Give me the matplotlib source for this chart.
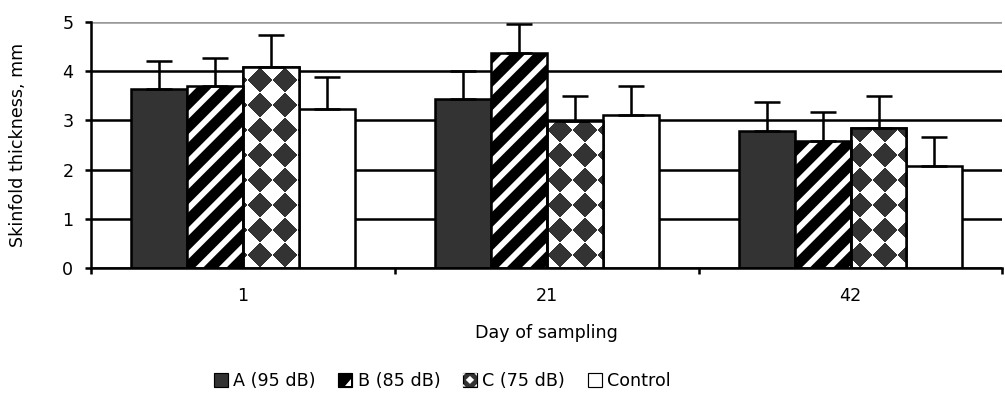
import numpy as np
import matplotlib
matplotlib.use('Agg')
import matplotlib.pyplot as plt
from matplotlib.patches import Patch, Rectangle, Polygon
from matplotlib.legend_handler import HandlerBase

# ---- data ----
days = ['1', '21', '42']
series = ['A (95 dB)', 'B (85 dB)', 'C (75 dB)', 'Control']
vals_A = [3.63, 3.43, 2.78]
vals_B = [3.69, 4.37, 2.59]
vals_C = [4.09, 2.99, 2.85]
vals_ctrl = [3.24, 3.10, 2.07]
err_A = [0.58, 0.57, 0.59]
err_B = [0.58, 0.58, 0.59]
err_C = [0.65, 0.51, 0.65]
err_ctrl = [0.65, 0.59, 0.59]
yticks = [0, 1, 2, 3, 4, 5]

DPI = 140
plt.rcParams['hatch.linewidth'] = 3.0
plt.rcParams['font.family'] = ['DejaVu Sans']
FS = 9

fig = plt.figure(figsize=(1005 / DPI, 404 / DPI), dpi=DPI)
ax_l, ax_b, ax_w, ax_h = 0.0905, 0.3366, 0.907, 0.6089
ax = fig.add_axes([ax_l, ax_b, ax_w, ax_h])

x = np.arange(len(days))
w = 0.184
offs = [(i - 1.5) * w for i in range(4)]
dark = '#333333'
lw = 1.3

# A
barsA = ax.bar(x + offs[0], vals_A, w, color=dark, edgecolor='black', linewidth=lw, zorder=2)
# B : black with white diagonal stripes
barsB = ax.bar(x + offs[1], vals_B, w, color='black', edgecolor='white', hatch='//', linewidth=0, zorder=2)
ax.bar(x + offs[1], vals_B, w, fill=False, edgecolor='black', linewidth=lw, zorder=2.4)
# C : diamond checker
barsC = ax.bar(x + offs[2], vals_C, w, color=dark, edgecolor='black', linewidth=lw, zorder=2)
# Control
barsD = ax.bar(x + offs[3], vals_ctrl, w, color='white', edgecolor='black', linewidth=lw, zorder=2)

ax.set_xlim(-0.5, len(days) - 0.5)
ax.set_ylim(0, 5)

# checker pattern in display pixels
Wpx = int(round(1005 * ax_w)) * 2
Hpx = int(round(404 * ax_h)) * 2
u = (np.arange(Wpx) + 0.5) / 2.0
v = (np.arange(Hpx) + 0.5) / 2.0
U, V = np.meshgrid(u, v)
p = 25.0
par = (np.floor((U + V + 6) / p) + np.floor((U - V + 6) / p)) % 2
img = np.ones((Hpx, Wpx, 3))
img[par == 1] = np.array([0x33, 0x33, 0x33]) / 255.0
for b in barsC:
    im = ax.imshow(img, extent=(-0.5, len(days) - 0.5, 0, 5), origin='lower',
                   aspect='auto', interpolation='nearest', zorder=2.2)
    im.set_clip_path(b)
ax.bar(x + offs[2], vals_C, w, fill=False, edgecolor='black', linewidth=lw, zorder=2.4)
ax.set_xlim(-0.5, len(days) - 0.5)
ax.set_ylim(0, 5)

# error bars (upper only)
for vals, errs, o in [(vals_A, err_A, offs[0]), (vals_B, err_B, offs[1]),
                      (vals_C, err_C, offs[2]), (vals_ctrl, err_ctrl, offs[3])]:
    ax.errorbar(x + o, vals, yerr=[np.zeros(len(errs)), errs], fmt='none',
                ecolor='black', elinewidth=1.3, capsize=6.8, capthick=1.3, zorder=2.6)

# axes styling
ax.set_axisbelow(True)
ax.set_yticks(yticks)
ax.yaxis.grid(True, color='black', linewidth=1.3)
gl = ax.get_ygridlines()
gl[-1].set_color('#999999')
for s in ['top', 'right']:
    ax.spines[s].set_visible(False)
ax.spines['left'].set_linewidth(1.3)
ax.spines['bottom'].set_linewidth(1.3)
ax.tick_params(axis='y', direction='out', length=3, width=1.3, labelsize=FS, pad=6)

ax.set_xticks(np.arange(len(days) + 1) - 0.5)
ax.set_xticklabels([])
ax.set_xticks(x, minor=True)
ax.set_xticklabels(days, minor=True)
ax.tick_params(axis='x', which='major', direction='out', length=3, width=1.3)
ax.tick_params(axis='x', which='minor', length=0, labelsize=FS, pad=10)

ax.set_xlabel('Day of sampling', fontsize=FS, va='center')
ax.xaxis.set_label_coords(0.5, -0.264)
ax.set_ylabel('Skinfold thickness, mm', fontsize=FS, va='center')
ax.yaxis.set_label_coords(-0.0795, 0.5)


# ---- legend handles ----
class HandlerStripe(HandlerBase):
    def create_artists(self, legend, orig_handle, xdescent, ydescent,
                       width, height, fontsize, trans):
        x0, y0 = -xdescent, -ydescent
        r = Rectangle((x0, y0), width, height, facecolor='black',
                      edgecolor='black', linewidth=0.6, transform=trans)
        t = Polygon([(x0 + width * 0.45, y0 + height * 0.08),
                     (x0 + width * 0.92, y0 + height * 0.08),
                     (x0 + width * 0.92, y0 + height * 0.55)],
                    closed=True, facecolor='white', edgecolor='none', transform=trans)
        return [r, t]


class HandlerChecker(HandlerBase):
    def create_artists(self, legend, orig_handle, xdescent, ydescent,
                       width, height, fontsize, trans):
        x0, y0 = -xdescent, -ydescent
        r = Rectangle((x0, y0), width, height, facecolor=dark,
                      edgecolor='black', linewidth=0.6, transform=trans)
        cx, cy = x0 + width / 2, y0 + height / 2
        a, bb = width * 0.3, height * 0.3
        d = Polygon([(cx - a, cy), (cx, cy + bb), (cx + a, cy), (cx, cy - bb)],
                    closed=True, facecolor='white', edgecolor='none', transform=trans)
        arts = [r, d]
        for (px, py, sx, sy) in [(x0, y0, 1, 1), (x0 + width, y0, -1, 1),
                                 (x0, y0 + height, 1, -1), (x0 + width, y0 + height, -1, -1)]:
            arts.append(Polygon([(px, py), (px + sx * width * 0.2, py), (px, py + sy * height * 0.2)],
                                closed=True, facecolor='white', edgecolor='none', transform=trans))
        return arts


hA = Patch(facecolor=dark, edgecolor='black', linewidth=0.6)
hB = Patch(facecolor='black')
hC = Patch(facecolor=dark)
hD = Patch(facecolor='white', edgecolor='black', linewidth=0.6)
fig.legend([hA, hB, hC, hD], series, loc='center', bbox_to_anchor=(0.440, 0.057),
           bbox_transform=fig.transFigure, ncol=4, frameon=False, fontsize=FS,
           handlelength=0.8, handleheight=0.8, handletextpad=0.3, columnspacing=1.3,
           handler_map={hB: HandlerStripe(), hC: HandlerChecker()})

fig.savefig('out.png', dpi=DPI)
